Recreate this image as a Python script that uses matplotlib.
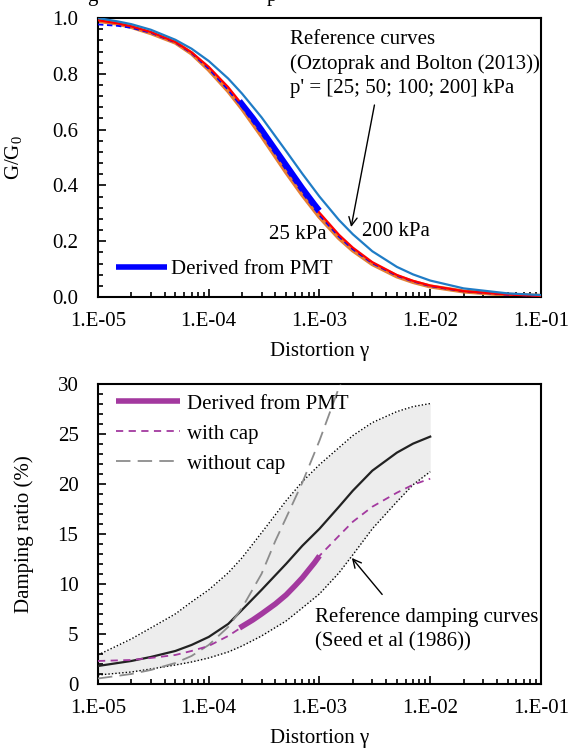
import matplotlib
matplotlib.use("Agg")
import matplotlib.pyplot as plt
from matplotlib.ticker import LogLocator, FixedLocator, MultipleLocator, FuncFormatter

plt.rcParams['font.family'] = ['Liberation Serif', 'DejaVu Serif']
plt.rcParams['mathtext.fontset'] = 'custom'
plt.rcParams['mathtext.rm'] = 'Liberation Serif'
plt.rcParams['font.size'] = 15

# ---- G/G0 reference curves (Oztoprak and Bolton 2013)
gam = [1e-5, 1.5e-5, 2e-5, 3e-5, 5e-5, 7e-5, 1e-4, 1.5e-4, 2e-4, 3e-4, 5e-4,
       7e-4, 1e-3, 1.5e-3, 2e-3, 3e-3, 5e-3, 7e-3, 1e-2, 2e-2, 5e-2, 1e-1]
g_25 = [0.990, 0.980, 0.968, 0.946, 0.912, 0.873, 0.815, 0.738, 0.675, 0.577, 0.447,
        0.366, 0.287, 0.211, 0.167, 0.118, 0.074, 0.054, 0.038, 0.020, 0.008, 0.004]
g_50 = [0.977, 0.972, 0.965, 0.947, 0.912, 0.874, 0.818, 0.742, 0.680, 0.584, 0.455,
        0.373, 0.293, 0.216, 0.171, 0.121, 0.076, 0.056, 0.039, 0.020, 0.008, 0.004]
g_100 = [0.992, 0.981, 0.970, 0.950, 0.914, 0.877, 0.825, 0.752, 0.690, 0.594, 0.465,
         0.382, 0.302, 0.223, 0.177, 0.125, 0.079, 0.058, 0.041, 0.021, 0.009, 0.004]
g_200 = [1.000, 0.988, 0.978, 0.958, 0.922, 0.890, 0.846, 0.783, 0.729, 0.644, 0.523,
         0.442, 0.360, 0.276, 0.225, 0.164, 0.108, 0.081, 0.059, 0.031, 0.013, 0.007]

gam_pmt = [1.9e-4, 2.5e-4, 3e-4, 4e-4, 5e-4, 6e-4, 7e-4, 8e-4, 9e-4, 1e-3]
g_pmt = [0.703, 0.643, 0.600, 0.529, 0.474, 0.429, 0.391, 0.360, 0.333, 0.310]

# ---- damping (Seed et al 1986 band + PMT)
gam_d = [1e-5, 2e-5, 3e-5, 5e-5, 7e-5, 1e-4, 1.5e-4, 2e-4, 3e-4, 5e-4, 7e-4,
         1e-3, 1.5e-3, 2e-3, 3e-3, 5e-3, 7e-3, 1e-2]
d_upper = [2.9, 4.5, 5.6, 7.0, 8.2, 9.4, 11.1, 12.6, 15.1, 18.3, 20.2,
           21.9, 23.6, 24.8, 26.1, 27.2, 27.7, 28.0]
d_lower = [0.9, 1.2, 1.5, 1.9, 2.2, 2.6, 3.2, 3.8, 4.8, 6.3, 7.6,
           9.0, 11.1, 12.9, 15.5, 18.2, 19.9, 21.2]
d_mean = [1.8, 2.3, 2.7, 3.3, 3.9, 4.7, 6.0, 7.4, 9.4, 12.0, 13.8,
          15.5, 17.7, 19.3, 21.3, 23.1, 24.0, 24.7]
d_cap = [2.3, 2.4, 2.6, 2.9, 3.3, 3.8, 4.8, 5.7, 7.0, 8.9, 10.6,
         12.8, 14.8, 16.2, 17.7, 19.1, 19.9, 20.5]

gam_nocap = [1e-5, 2e-5, 3e-5, 5e-5, 7e-5, 1e-4, 1.5e-4, 2e-4, 3e-4, 4e-4,
             5e-4, 7e-4, 1e-3, 1.5e-3, 2e-3]
d_nocap = [0.55, 1.0, 1.4, 2.1, 2.8, 3.9, 5.7, 7.6, 11.0, 14.3,
           16.6, 20.1, 24.3, 29.6, 33.3]

d_pmt = [5.6, 6.4, 7.0, 8.0, 8.9, 9.8, 10.6, 11.4, 12.1, 12.8]

xticks = [1e-5, 1e-4, 1e-3, 1e-2, 1e-1]
xticklabels = ['1.E-05', '1.E-04', '1.E-03', '1.E-02', '1.E-01']

magenta = '#A3399F'

fig = plt.figure(figsize=(5.71, 7.51), dpi=100)
ax1 = fig.add_axes([0.1716, 0.6045, 0.7758, 0.3715])
ax2 = fig.add_axes([0.1716, 0.0892, 0.7758, 0.4001])


def style_axis(ax):
    ax.set_xscale('log')
    ax.set_xlim(1e-5, 1e-1)
    ax.xaxis.set_major_locator(FixedLocator(xticks))
    ax.set_xticklabels(xticklabels)
    ax.xaxis.set_minor_locator(LogLocator(base=10, subs=range(2, 10), numticks=20))
    ax.xaxis.set_minor_formatter(FuncFormatter(lambda v, p: ''))
    ax.tick_params(which='both', direction='in', top=False, right=False, width=1.2)
    ax.tick_params(which='major', length=6)
    ax.tick_params(which='minor', length=3.5)
    ax.tick_params(axis='x', pad=11)
    ax.tick_params(axis='y', pad=14)
    for s in ax.spines.values():
        s.set_linewidth(1.5)
    ax.set_xlabel('Distortion γ', labelpad=8)


# top panel
ax1.plot(gam, g_25, color='#E67E33', lw=3.0, zorder=2)
ax1.plot(gam, g_50, color='#0000FF', lw=1.3, ls=(0, (3, 2)), zorder=3)
ax1.plot(gam, g_100, color='#FF0000', lw=1.6, zorder=3)
ax1.plot(gam, g_200, color='#1F7CC6', lw=1.6, zorder=3)
ax1.plot(gam_pmt, g_pmt, color='#0000FF', lw=4.0, solid_capstyle='butt', zorder=4,
         label='Derived from PMT')
style_axis(ax1)
ax1.set_ylim(0, 1.0)
ax1.yaxis.set_major_locator(MultipleLocator(0.2))
ax1.yaxis.set_minor_locator(MultipleLocator(0.04))
ax1.yaxis.set_major_formatter(FuncFormatter(lambda v, p: '%.1f' % v))
ax1.set_ylabel('G/G$_0$')
ax1.yaxis.set_label_coords(-0.165, 0.5)
ax1.legend(loc='center left', bbox_to_anchor=(0.04, 0.10), frameon=False,
           borderpad=0, borderaxespad=0, handlelength=2.45, handletextpad=0.2)
ax1.text(5.4e-4, 0.835, "Reference curves\n(Oztoprak and Bolton (2013))\np' = [25; 50; 100; 200] kPa",
         va='center', ha='left', linespacing=1.35)
ax1.annotate('', xy=(1.91e-3, 0.241), xytext=(3.17e-3, 0.698),
             arrowprops=dict(arrowstyle='->', color='black', lw=1.0))
ax1.text(1.17e-3, 0.223, '25 kPa', ha='right', va='center')
ax1.text(2.4e-3, 0.236, '200 kPa', ha='left', va='center')

# bottom panel
ax2.fill_between(gam_d, d_lower, d_upper, color='#EDEDED', lw=0, zorder=1)
ax2.plot(gam_d, d_upper, color='black', lw=1.0, ls=(0, (1, 1.5)), zorder=2)
ax2.plot(gam_d, d_lower, color='black', lw=1.0, ls=(0, (1, 1.5)), zorder=2)
ax2.plot(gam_d, d_mean, color='#222222', lw=1.6, zorder=3)
ax2.plot(gam_pmt, d_pmt, color=magenta, lw=4.0, solid_capstyle='butt', zorder=5,
         label='Derived from PMT')
ax2.plot(gam_d, d_cap, color=magenta, lw=1.3, ls=(0, (4, 3)), zorder=4, label='with cap')
ax2.plot(gam_nocap, d_nocap, color='#8C8C8C', lw=1.3, ls=(0, (8, 4)), zorder=3,
         label='without cap')
style_axis(ax2)
ax2.set_ylim(0, 30)
ax2.yaxis.set_major_locator(MultipleLocator(5))
ax2.yaxis.set_minor_locator(MultipleLocator(1))
ax2.set_ylabel('Damping ratio (%)')
ax2.yaxis.set_label_coords(-0.145, 0.5)
ax2.legend(loc='upper left', bbox_to_anchor=(0.04, 0.965), frameon=False,
           borderpad=0, borderaxespad=0, handlelength=3.07, handletextpad=0.36,
           labelspacing=0.5)
ax2.text(9.1e-4, 5.5, 'Reference damping curves\n(Seed et al (1986))', va='center', ha='left',
         linespacing=1.35)
ax2.annotate('', xy=(1.89e-3, 12.8), xytext=(3.82e-3, 8.73),
             arrowprops=dict(arrowstyle='->', color='black', lw=1.0))

# leftovers of the cropped line above the figure
fig.text(86.7 / 571, 1 - 0.5 / 751, 'g', va='baseline', ha='left')
fig.text(266.7 / 571, 1 - 0.5 / 751, 'p', va='baseline', ha='left')

fig.savefig('out.png', dpi=100)
